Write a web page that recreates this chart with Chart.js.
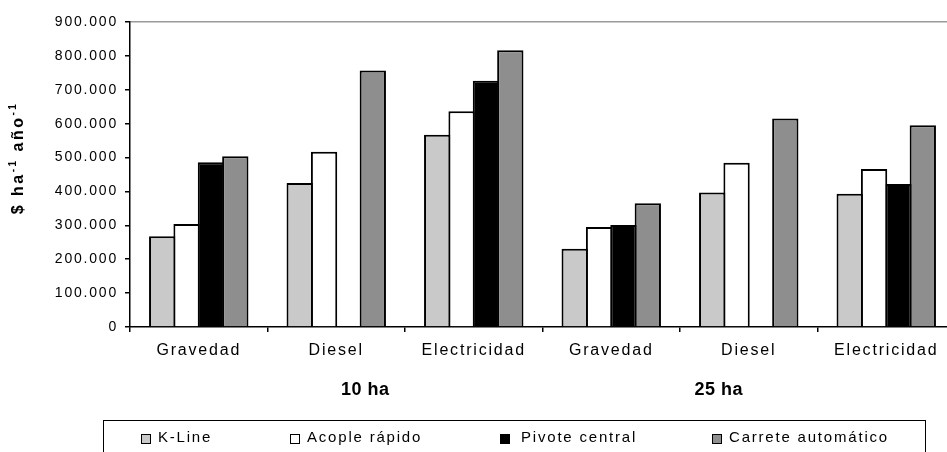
<!DOCTYPE html>
<html><head><meta charset="utf-8">
<script src="https://cdn.jsdelivr.net/npm/chart.js@4.4.0/dist/chart.umd.min.js"></script>
<style>
html,body{margin:0;padding:0;overflow:hidden;background:#fff;width:947px;height:452px}
#wrap{position:relative;width:960px;height:452px}
</style></head>
<body><div id="wrap"><canvas id="c" width="960" height="452"></canvas></div>
<script>
const categories = ['Gravedad', 'Diesel', 'Electricidad', 'Gravedad', 'Diesel', 'Electricidad'];
const groupLabels = ['10 ha', '25 ha'];
const seriesNames = ['K-Line', 'Acople rápido', 'Pivote central', 'Carrete automático'];
const kLine   = [268000, 425000, 567000, 231000, 397000, 393000];
const acople  = [304000, 517000, 637000, 295000, 485000, 466000];
const pivote  = [486000, null,   727000, 301000, null,   422000];
const carrete = [504000, 757000, 817000, 365000, 615000, 595000];
const yTicks  = [0, 100000, 200000, 300000, 400000, 500000, 600000, 700000, 800000, 900000];
const yTitle  = ['$ ha', '-1', ' año', '-1'];

const FONT = "'Liberation Sans', Arial, sans-serif";
const colors = ['#c9c9c9', '#ffffff', '#000000', '#8e8e8e'];
const seriesData = [kLine, acople, pivote, carrete];

function fmt(v){ return String(v).replace(/\B(?=(\d{3})+(?!\d))/g, '.'); }

const spacingPlugin = {
  id: 'spacing',
  beforeUpdate(chart){ chart.ctx.letterSpacing = '1.8px'; },
  beforeLayout(chart){ chart.ctx.letterSpacing = '1.8px'; },
  beforeDraw(chart){ chart.ctx.letterSpacing = '1.8px'; }
};

const overlayPlugin = {
  id: 'overlay',
  afterDraw(chart){
    const ctx = chart.ctx;
    const x = chart.scales.x;
    // Y title with superscripts
    ctx.save();
    ctx.translate(17, 158);
    ctx.rotate(-Math.PI/2);
    ctx.fillStyle = '#000';
    ctx.textBaseline = 'alphabetic';
    ctx.textAlign = 'left';
    ctx.letterSpacing = '2.5px';
    const parts = yTitle.map((t, i) => ({t, sup: i % 2 === 1}));
    let W = 0;
    parts.forEach(p => { ctx.font = 'bold ' + (p.sup ? 10 : 16) + 'px ' + FONT; p.w = ctx.measureText(p.t).width; W += p.w; });
    let cx = -W/2;
    parts.forEach(p => {
      ctx.font = 'bold ' + (p.sup ? 10 : 16) + 'px ' + FONT;
      ctx.fillText(p.t, cx, p.sup ? -1 : 6);
      cx += p.w;
    });
    ctx.restore();

    // group labels
    ctx.save();
    ctx.font = 'bold 18px ' + FONT;
    ctx.letterSpacing = '0.5px';
    ctx.fillStyle = '#000';
    ctx.textAlign = 'center';
    ctx.textBaseline = 'middle';
    const g1 = (x.getPixelForValue(0) + x.getPixelForValue(2)) / 2 + 29;
    const g2 = (x.getPixelForValue(3) + x.getPixelForValue(5)) / 2 - 30;
    ctx.fillText(groupLabels[0], g1, 390);
    ctx.fillText(groupLabels[1], g2, 390);
    ctx.restore();

    // legend
    ctx.save();
    ctx.strokeStyle = '#000';
    ctx.lineWidth = 1;
    ctx.strokeRect(103.5, 420.5, 822, 60);
    const sqX = [141, 290, 500, 712];
    const txX = [158, 307, 521, 729];
    ctx.font = '15px ' + FONT;
    ctx.letterSpacing = '1.8px';
    ctx.textBaseline = 'middle';
    ctx.textAlign = 'left';
    chart.data.datasets.forEach((ds, i) => {
      ctx.fillStyle = ds.backgroundColor;
      ctx.fillRect(sqX[i] + 0.5, 434.5, 9, 9);
      ctx.strokeRect(sqX[i] + 0.5, 434.5, 9, 9);
      ctx.fillStyle = '#000';
      ctx.fillText(ds.label, txX[i], 438);
    });
    ctx.restore();
  }
};

new Chart(document.getElementById('c'), {
  type: 'bar',
  data: {
    labels: categories,
    datasets: seriesNames.map((n, i) => ({
      label: n,
      data: seriesData[i],
      backgroundColor: colors[i],
      borderColor: '#000',
      borderWidth: 2,
      borderSkipped: 'bottom',
      inflateAmount: 0,
      barPercentage: 1.08,
      categoryPercentage: 0.709
    }))
  },
  options: {
    responsive: false,
    animation: false,
    devicePixelRatio: 1,
    layout: { padding: { top: 22, right: 5, left: 0, bottom: 0 } },
    plugins: { legend: { display: false }, tooltip: { enabled: false } },
    scales: {
      x: {
        offset: true,
        grid: { offset: true, drawOnChartArea: false, drawTicks: true, tickLength: 5, color: '#000', tickColor: '#000', lineWidth: 1.5 },
        border: { display: true, color: '#000', width: 1.5 },
        ticks: { color: '#000', font: { family: FONT, size: 16 }, padding: 9, maxRotation: 0, autoSkip: false },
        afterFit(s){ s.height = 125; }
      },
      y: {
        min: 0, max: 900000,
        afterBuildTicks(s){ s.ticks = yTicks.map(v => ({value: v})); },
        grid: {
          color: c => (c.tick && c.tick.value === 900000) ? '#9a9a9a' : 'rgba(0,0,0,0)',
          lineWidth: 1.5, tickColor: '#000', tickLength: 5, drawTicks: true
        },
        border: { display: true, color: '#000', width: 1.5 },
        ticks: { color: '#000', font: { family: FONT, size: 14 }, padding: 7, callback: v => fmt(v) },
        afterFit(s){ s.width = 130; }
      }
    }
  },
  plugins: [spacingPlugin, overlayPlugin]
});
</script>
</body></html>
